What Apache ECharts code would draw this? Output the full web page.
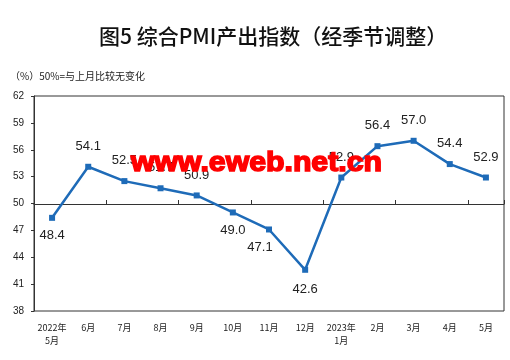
<!DOCTYPE html>
<html><head><meta charset="utf-8">
<script src="https://cdn.jsdelivr.net/npm/echarts@6/dist/echarts.min.js"></script>
<style>html,body{margin:0;padding:0;background:#fff}#c{width:510px;height:360px}</style>
</head><body><div id="c"></div>
<script>
var categories = ['2022年\n5月','6月','7月','8月','9月','10月','11月','12月','2023年\n1月','2月','3月','4月','5月'];
var values = [48.4, 54.1, 52.5, 51.7, 50.9, 49.0, 47.1, 42.6, 52.9, 56.4, 57.0, 54.4, 52.9];
var labelBelow = [true, false, false, false, false, true, true, true, false, false, false, false, false];
var yTicks = {min: 38, max: 62, interval: 3};
var titleText = '图5 综合PMI产出指数（经季节调整）';
var unitText = '（%）50%=与上月比较无变化';
var watermark = 'www.eweb.net.cn';

var chart = echarts.init(document.getElementById('c'));
var seriesData = values.map(function (v, i) {
  var d = {value: v};
  if (labelBelow[i]) {
    d.label = {position: 'bottom', distance: i === 7 ? 10 : 8, offset: i === 6 ? [-9, 0] : [0, 0]};
  }
  return d;
});
chart.setOption({
  animation: false,
  title: {
    text: titleText, left: 94, top: 21,
    textStyle: {fontFamily: 'Noto Sans CJK SC', fontSize: 21, fontWeight: 500, color: '#111'}
  },
  graphic: [
    {type: 'text', left: 10, top: 71, style: {text: unitText, font: '10px "Noto Sans CJK SC"', fill: '#222'}},
    {type: 'text', z: 100, x: 131, y: 150, scaleX: 1.12, style: {x: 0, y: 0, text: watermark, font: 'bold 27px "Liberation Sans"', fill: '#f00', stroke: '#f00', lineWidth: 1.5}}
  ],
  grid: {left: 34, right: 6, top: 96, bottom: 49, show: true, borderColor: '#333', borderWidth: 1},
  xAxis: [{
    type: 'category', data: categories, position: 'bottom',
    axisLine: {show: false}, axisTick: {show: false},
    axisLabel: {fontSize: 9, color: '#222', margin: 10, lineHeight: 13, fontFamily: 'Noto Sans CJK SC', interval: 0}
  }, {
    type: 'category', data: categories, position: 'bottom', offset: -107,
    axisLine: {show: true, lineStyle: {color: '#333', width: 1}},
    axisTick: {show: true, inside: true, length: 4, lineStyle: {color: '#333'}},
    axisLabel: {show: false}
  }],
  yAxis: {
    type: 'value', min: yTicks.min, max: yTicks.max, interval: yTicks.interval,
    axisLine: {show: true, lineStyle: {color: '#333'}},
    axisTick: {show: true, length: 3, lineStyle: {color: '#333'}},
    axisLabel: {fontSize: 10, color: '#222', margin: 10, fontFamily: 'Liberation Sans'},
    splitLine: {show: false}
  },
  series: [{
    type: 'line', data: seriesData, xAxisIndex: 0,
    symbol: 'rect', symbolSize: 6,
    lineStyle: {color: '#1e6bb8', width: 2.5},
    itemStyle: {color: '#1e6bb8'},
    label: {show: true, position: 'top', distance: 11, fontSize: 13, color: '#222', fontFamily: 'Liberation Sans',
      formatter: function (p) { return p.value.toFixed(1); }}
  }]
});
</script></body></html>
